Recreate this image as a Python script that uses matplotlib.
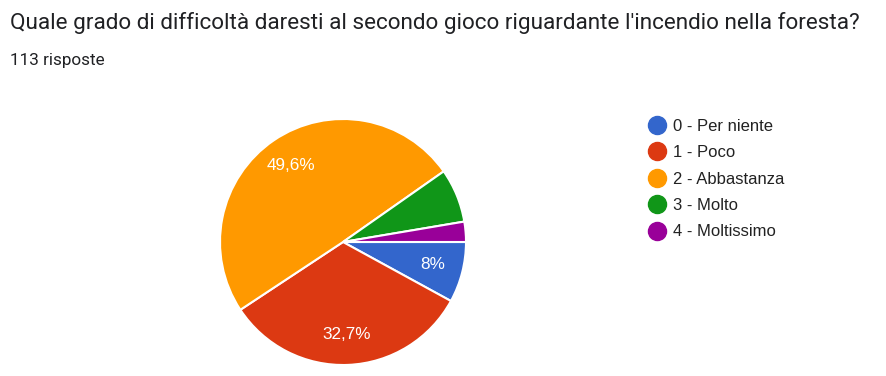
import matplotlib
matplotlib.use("Agg")
import matplotlib.pyplot as plt
from matplotlib.lines import Line2D

title = "Quale grado di difficoltà daresti al secondo gioco riguardante l'incendio nella foresta?"
subtitle = "113 risposte"
categories = ["0 - Per niente", "1 - Poco", "2 - Abbastanza", "3 - Molto", "4 - Moltissimo"]
counts = [9, 37, 56, 8, 3]
colors = ["#3366cc", "#dc3912", "#ff9900", "#109618", "#990099"]

plt.rcParams['font.family'] = ['Roboto', 'DejaVu Sans']

W, H = 887, 376
fig = plt.figure(figsize=(W / 100, H / 100), dpi=100)
ax = fig.add_axes([0, 0, 1, 1])

total = sum(counts)

def fmt(p):
    if p < 5:
        return ""
    s = f"{p:.1f}"
    if s.endswith(".0"):
        s = s[:-2]
    return s.replace(".", ",") + "%"

wedges, texts, autotexts = ax.pie(
    counts, colors=colors, startangle=0, counterclock=False,
    center=(343, H - 242), radius=123, autopct=fmt, pctdistance=0.75,
    wedgeprops=dict(edgecolor="white", linewidth=1.5),
    textprops=dict(color="white", fontsize=12.3, family=['Liberation Sans', 'DejaVu Sans']),
    frame=True)
for i, t in enumerate(autotexts):
    if counts[i] / total * 100 < 7.5:
        t.set_text("")
ax.set_xlim(0, W)
ax.set_ylim(0, H)
ax.set_aspect('auto')
ax.axis('off')

fig.text(10 / W, 1 - 23 / H, title, fontsize=16.2, color="#202124", va="center", ha="left")
fig.text(10 / W, 1 - 61 / H, subtitle, fontsize=12.3, color="#202124", va="center", ha="left")

handles = [Line2D([0], [0], marker='o', linestyle='none', markersize=13,
                  markerfacecolor=c, markeredgecolor=c) for c in colors]
leg = ax.legend(handles, categories, loc='upper left',
                bbox_to_anchor=(647 / W, 1 - 119 / H), frameon=False,
                prop=dict(family=['Liberation Sans', 'DejaVu Sans'], size=12),
                handletextpad=0.35, labelspacing=0.68,
                handlelength=1.2, borderaxespad=0, borderpad=0)
for t in leg.get_texts():
    t.set_color("#222222")

fig.savefig("out.png", dpi=100, facecolor="white")
